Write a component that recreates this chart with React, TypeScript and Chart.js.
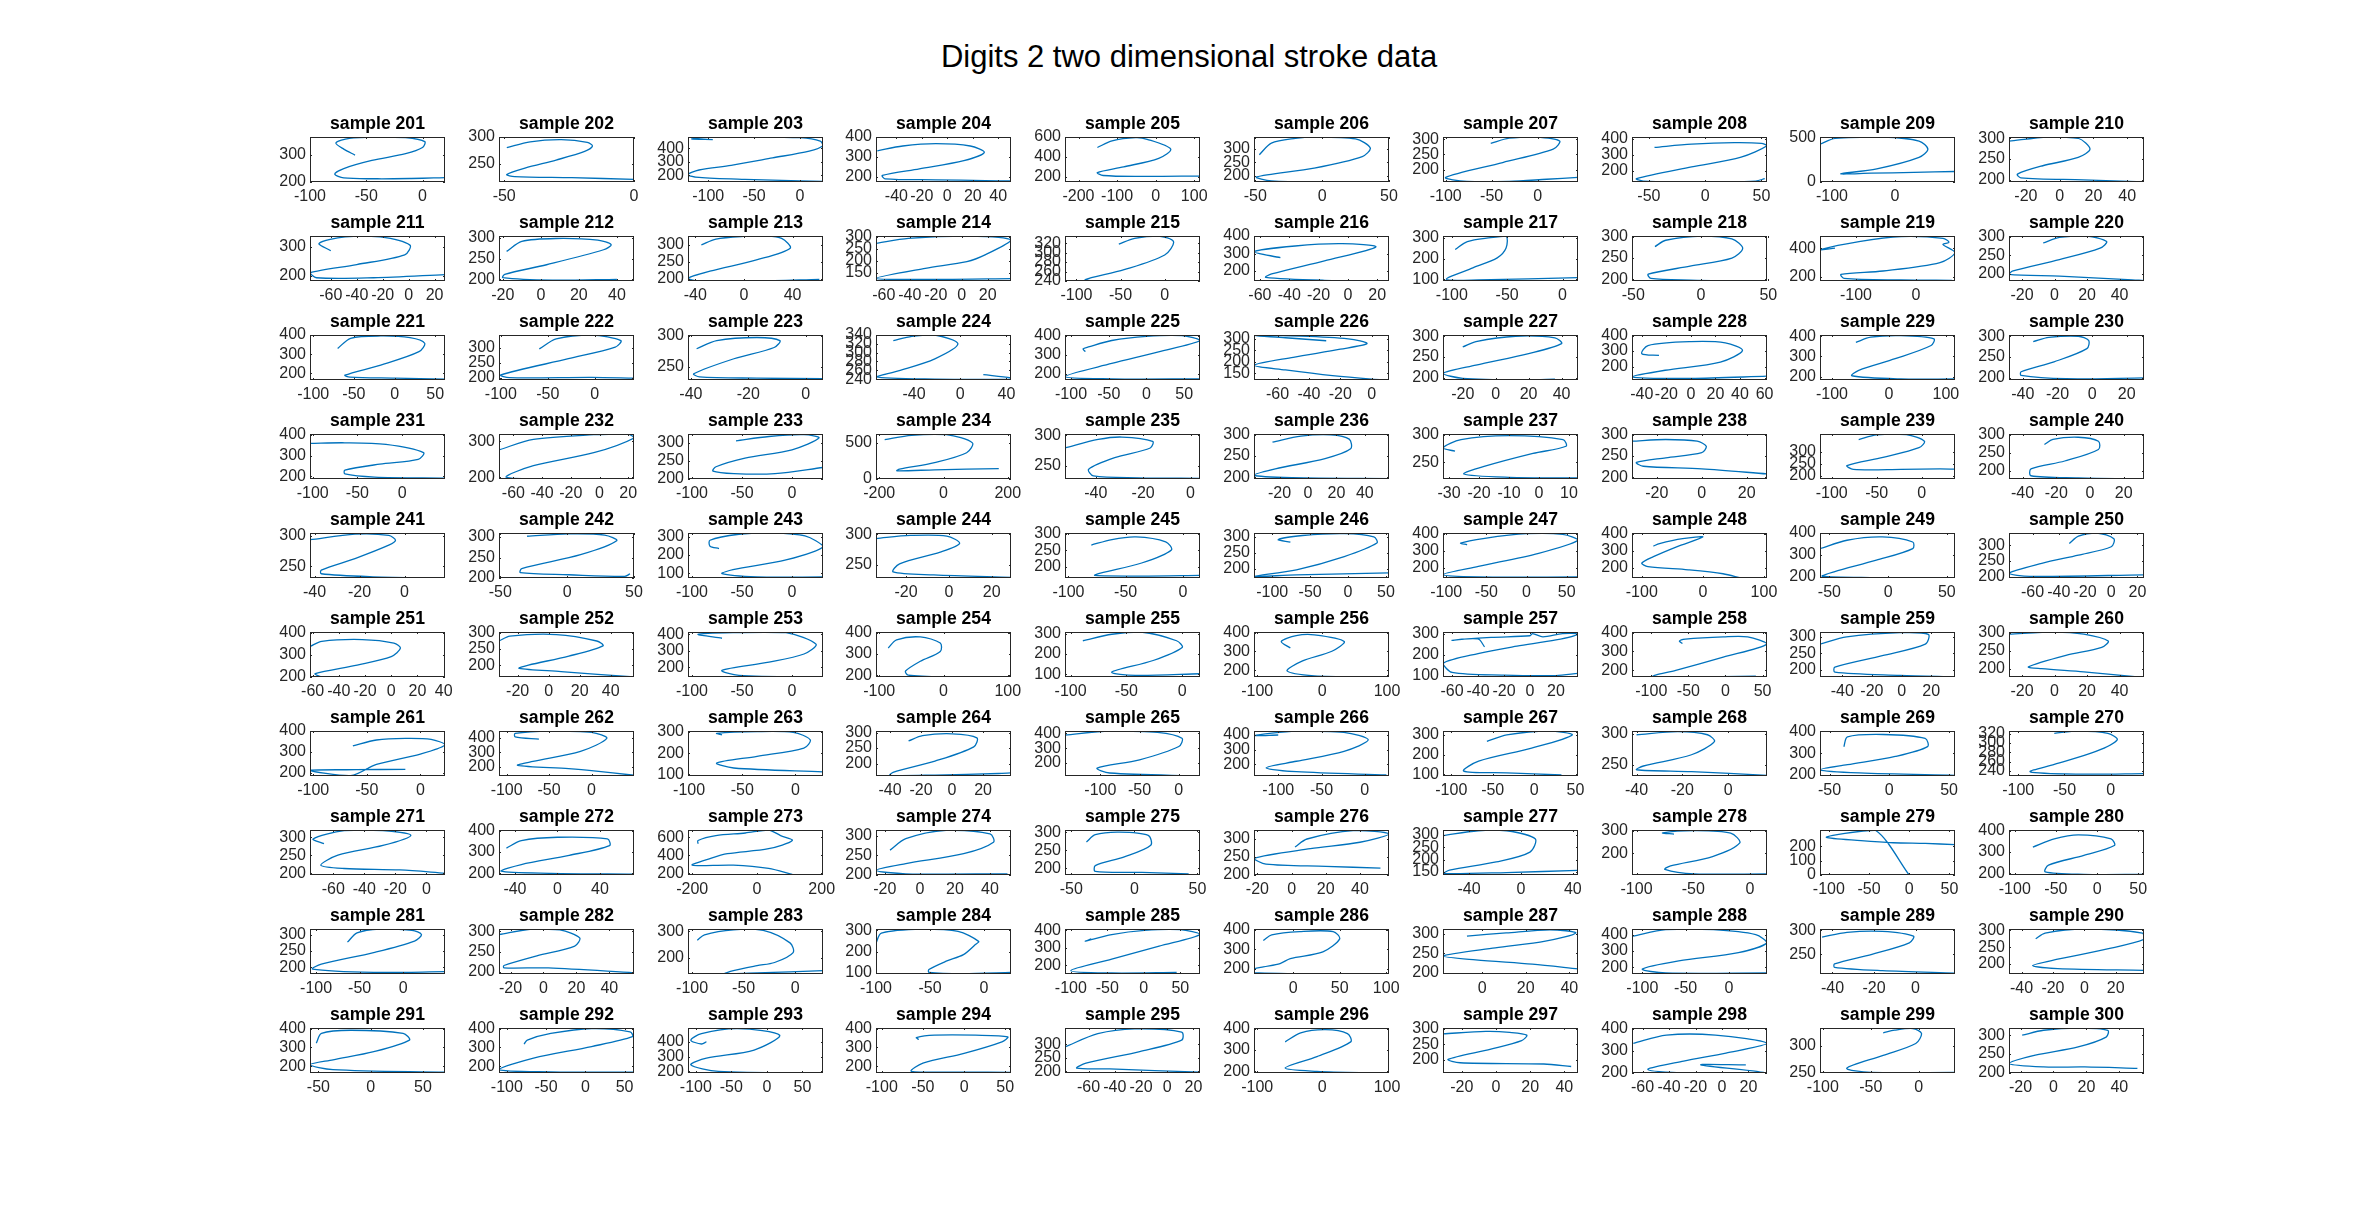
import React, { useEffect, useRef } from "react";
import { Chart, registerables } from "chart.js";

Chart.register(...registerables);

const FONT = '"Liberation Sans", Arial, Helvetica, sans-serif';
const LINE_COLOR = "#0072BD";
const AXIS_COLOR = "#262626";

const figureTitle = "Digits 2 two dimensional stroke data";
const firstSample = 201;
const sampleCount = 100;
const gridCols = 10;

// layout (page pixels)
const GRID_LEFT = 310;
const COL_STEP = 188.8;
const GRID_TOP = 137;
const ROW_STEP = 99;
const BOX_W = 135;
const BOX_H = 45;
const PAD_SIDE = 55;
const Y_AXIS_W = 50;
const PAD_TOP = 32;
const PAD_BOTTOM = 30;

const sampleIds = Array.from({ length: sampleCount }, (_, i) => firstSample + i);

const xLimits: number[][] = [
  [-100, 20], [-52, 0], [-122, 25], [-56, 50], [-235, 115], [-51, 50], [-103, 44], [-65, 55], [-119, 95], [-30, 50],
  [-76, 28], [-22, 49], [-46, 65], [-66, 38], [-113, 40], [-64, 28], [-108, 14], [-51, 49], [-160, 65], [-28, 55],
  [-104, 62], [-102, 42], [-41, 6], [-73, 44], [-108, 71], [-75, 11], [-32, 50], [-48, 62], [-121, 116], [-48, 30],
  [-103, 48], [-70, 24], [-104, 31], [-210, 210], [-53, 4], [-38, 57], [-32, 13], [-31, 29], [-113, 37], [-48, 32],
  [-42, 18], [-51, 50], [-104, 31], [-34, 29], [-103, 15], [-124, 54], [-104, 64], [-116, 105], [-58, 57], [-78, 25],
  [-62, 41], [-32, 55], [-104, 31], [-105, 105], [-105, 16], [-105, 103], [-67, 37], [-126, 56], [-55, 36], [-28, 55],
  [-103, 23], [-109, 50], [-101, 26], [-49, 38], [-145, 27], [-128, 28], [-110, 53], [-42, 17], [-58, 55], [-110, 36],
  [-75, 12], [-55, 72], [-213, 204], [-25, 52], [-55, 52], [-22, 57], [-60, 44], [-104, 15], [-111, 57], [-107, 57],
  [-107, 48], [-27, 55], [-104, 27], [-100, 25], [-108, 77], [-42, 103], [-18, 44], [-112, 44], [-46, 19], [-48, 38],
  [-58, 71], [-110, 62], [-111, 79], [-107, 57], [-78, 25], [-105, 103], [-31, 48], [-68, 34], [-103, 38], [-27, 55],
];

const yLimits: number[][] = [
  [200, 367], [216, 300], [151, 485], [175, 400], [151, 600], [177, 345], [159, 307], [129, 410], [0, 505], [195, 303],
  [183, 336], [196, 304], [193, 326], [115, 303], [240, 335], [143, 400], [92, 308], [196, 302], [173, 484], [180, 302],
  [165, 400], [192, 344], [229, 301], [238, 340], [166, 403], [121, 317], [194, 303], [113, 404], [184, 406], [194, 303],
  [188, 403], [195, 320], [200, 325], [0, 623], [228, 302], [196, 302], [220, 301], [196, 302], [186, 373], [177, 302],
  [231, 305], [200, 310], [73, 322], [229, 302], [165, 303], [170, 313], [140, 404], [140, 404], [195, 400], [197, 338],
  [200, 403], [163, 303], [140, 414], [192, 403], [87, 308], [165, 403], [93, 308], [165, 403], [178, 315], [177, 302],
  [185, 400], [136, 445], [95, 303], [160, 305], [113, 415], [122, 427], [92, 320], [232, 304], [195, 402], [229, 326],
  [195, 320], [192, 403], [182, 680], [200, 314], [182, 306], [200, 325], [137, 320], [105, 303], [0, 314], [192, 403],
  [180, 317], [195, 306], [137, 309], [95, 306], [149, 408], [175, 403], [197, 312], [160, 434], [209, 303], [170, 304],
  [165, 403], [165, 403], [189, 493], [165, 403], [194, 360], [192, 403], [157, 302], [200, 403], [249, 333], [200, 319],
];

const xTicks: number[][] = [
  [-100, -50, 0], [-50, 0], [-100, -50, 0], [-40, -20, 0, 20, 40], [-200, -100, 0, 100], [-50, 0, 50], [-100, -50, 0], [-50, 0, 50], [-100, 0], [-20, 0, 20, 40],
  [-60, -40, -20, 0, 20], [-20, 0, 20, 40], [-40, 0, 40], [-60, -40, -20, 0, 20], [-100, -50, 0], [-60, -40, -20, 0, 20], [-100, -50, 0], [-50, 0, 50], [-100, 0], [-20, 0, 20, 40],
  [-100, -50, 0, 50], [-100, -50, 0], [-40, -20, 0], [-40, 0, 40], [-100, -50, 0, 50], [-60, -40, -20, 0], [-20, 0, 20, 40], [-40, -20, 0, 20, 40, 60], [-100, 0, 100], [-40, -20, 0, 20],
  [-100, -50, 0], [-60, -40, -20, 0, 20], [-100, -50, 0], [-200, 0, 200], [-40, -20, 0], [-20, 0, 20, 40], [-30, -20, -10, 0, 10], [-20, 0, 20], [-100, -50, 0], [-40, -20, 0, 20],
  [-40, -20, 0], [-50, 0, 50], [-100, -50, 0], [-20, 0, 20], [-100, -50, 0], [-100, -50, 0, 50], [-100, -50, 0, 50], [-100, 0, 100], [-50, 0, 50], [-60, -40, -20, 0, 20],
  [-60, -40, -20, 0, 20, 40], [-20, 0, 20, 40], [-100, -50, 0], [-100, 0, 100], [-100, -50, 0], [-100, 0, 100], [-60, -40, -20, 0, 20], [-100, -50, 0, 50], [-40, -20, 0, 20], [-20, 0, 20, 40],
  [-100, -50, 0], [-100, -50, 0], [-100, -50, 0], [-40, -20, 0, 20], [-100, -50, 0], [-100, -50, 0], [-100, -50, 0, 50], [-40, -20, 0], [-50, 0, 50], [-100, -50, 0],
  [-60, -40, -20, 0], [-40, 0, 40], [-200, 0, 200], [-20, 0, 20, 40], [-50, 0, 50], [-20, 0, 20, 40], [-40, 0, 40], [-100, -50, 0], [-100, -50, 0, 50], [-100, -50, 0, 50],
  [-100, -50, 0], [-20, 0, 20, 40], [-100, -50, 0], [-100, -50, 0], [-100, -50, 0, 50], [0, 50, 100], [0, 20, 40], [-100, -50, 0], [-40, -20, 0], [-40, -20, 0, 20],
  [-50, 0, 50], [-100, -50, 0, 50], [-100, -50, 0, 50], [-100, -50, 0, 50], [-60, -40, -20, 0, 20], [-100, 0, 100], [-20, 0, 20, 40], [-60, -40, -20, 0, 20], [-100, -50, 0], [-20, 0, 20, 40],
];

const yTicks: number[][] = [
  [200, 300], [250, 300], [200, 300, 400], [200, 300, 400], [200, 400, 600], [200, 250, 300], [200, 250, 300], [200, 300, 400], [0, 500], [200, 250, 300],
  [200, 300], [200, 250, 300], [200, 250, 300], [150, 200, 250, 300], [240, 260, 280, 300, 320], [200, 300, 400], [100, 200, 300], [200, 250, 300], [200, 400], [200, 250, 300],
  [200, 300, 400], [200, 250, 300], [250, 300], [240, 260, 280, 300, 320, 340], [200, 300, 400], [150, 200, 250, 300], [200, 250, 300], [200, 300, 400], [200, 300, 400], [200, 250, 300],
  [200, 300, 400], [200, 300], [200, 250, 300], [0, 500], [250, 300], [200, 250, 300], [250, 300], [200, 250, 300], [200, 250, 300], [200, 250, 300],
  [250, 300], [200, 250, 300], [100, 200, 300], [250, 300], [200, 250, 300], [200, 250, 300], [200, 300, 400], [200, 300, 400], [200, 300, 400], [200, 250, 300],
  [200, 300, 400], [200, 250, 300], [200, 300, 400], [200, 300, 400], [100, 200, 300], [200, 300, 400], [100, 200, 300], [200, 300, 400], [200, 250, 300], [200, 250, 300],
  [200, 300, 400], [200, 300, 400], [100, 200, 300], [200, 250, 300], [200, 300, 400], [200, 300, 400], [100, 200, 300], [250, 300], [200, 300, 400], [240, 260, 280, 300, 320],
  [200, 250, 300], [200, 300, 400], [200, 400, 600], [200, 250, 300], [200, 250, 300], [200, 250, 300], [150, 200, 250, 300], [200, 300], [0, 100, 200], [200, 300, 400],
  [200, 250, 300], [200, 250, 300], [200, 300], [100, 200, 300], [200, 300, 400], [200, 300, 400], [200, 250, 300], [200, 300, 400], [250, 300], [200, 250, 300],
  [200, 300, 400], [200, 300, 400], [200, 300, 400], [200, 300, 400], [200, 250, 300], [200, 300, 400], [200, 250, 300], [200, 300, 400], [250, 300], [200, 250, 300],
];

const stroke201 = [[-60, 300], [-70, 322], [-77, 345], [-65, 362], [-40, 367], [-15, 365], [2, 350], [0, 328], [-15, 305], [-45, 280], [-70, 250], [-78, 230], [-70, 215], [-40, 212], [-10, 213], [10, 215], [20, 216]];
const stroke202 = [[-49, 280], [-40, 291], [-28, 295], [-18, 290], [-16, 283], [-19, 273], [-30, 257], [-42, 242], [-49, 230], [-46, 226], [-24, 224], [0, 221]];
const stroke203 = [[-95, 466], [-118, 470], [-100, 482], [-50, 485], [0, 480], [22, 455], [25, 420], [10, 380], [-30, 330], [-75, 275], [-110, 240], [-122, 205], [-110, 185], [-60, 170], [0, 160], [25, 155]];
const stroke204 = [[-55, 331], [-35, 355], [-9, 367], [18, 355], [29, 323], [13, 282], [-22, 241], [-51, 208], [-49, 191], [-9, 186], [30, 182], [50, 180]];
const stroke205 = [[-151, 495], [-113, 561], [-52, 593], [-22, 577], [39, 479], [8, 387], [-83, 302], [-151, 245], [-136, 216], [-37, 207], [115, 210]];
const stroke206 = [[-47, 279], [-38, 322], [-20, 340], [-6, 345], [25, 338], [36, 304], [30, 272], [-6, 229], [-49, 196], [-38, 181], [2, 177], [50, 177]];
const stroke207 = [[-51, 286], [-31, 303], [-2, 307], [24, 294], [17, 267], [-38, 223], [-100, 174], [-77, 161], [-31, 161], [10, 168], [44, 174]];
const stroke208 = [[-45, 345], [-12, 365], [26, 375], [50, 370], [55, 355], [32, 284], [-12, 223], [-61, 150], [-55, 135], [-20, 129], [15, 129], [45, 135], [53, 150]];
const stroke209 = [[-119, 424], [-95, 490], [-19, 505], [38, 460], [52, 368], [38, 276], [-29, 147], [-86, 92], [-38, 99], [30, 108], [95, 118]];
const stroke210 = [[-30, 293], [-7, 303], [11, 300], [18, 274], [11, 254], [-10, 234], [-25, 214], [-23, 205], [14, 200], [50, 195]];
const stroke211 = [[-60, 286], [-69, 311], [-49, 333], [-22, 333], [1, 305], [-3, 272], [-40, 239], [-76, 211], [-71, 194], [-27, 194], [28, 205]];
const stroke212 = [[-18, 267], [-10, 291], [8, 298], [30, 294], [37, 283], [33, 271], [3, 235], [-19, 212], [-20, 204], [6, 198], [40, 200]];
const stroke213 = [[-35, 300], [-23, 317], [0, 325], [17, 326], [31, 319], [38, 290], [11, 256], [-28, 222], [-46, 201], [-38, 193], [11, 193], [62, 198]];
const stroke214 = [[-66, 272], [-41, 293], [5, 303], [38, 286], [18, 224], [4, 196], [-28, 168], [-66, 126], [-19, 122], [38, 125]];
const stroke215 = [[-52, 318], [-34, 330], [-7, 335], [10, 323], [0, 295], [-46, 264], [-90, 243], [-73, 240], [40, 241]];
const stroke216 = [[-46, 276], [-64, 310], [-36, 343], [-4, 356], [19, 337], [-16, 258], [-52, 183], [-56, 164], [-16, 147], [28, 143]];
const stroke217 = [[-97, 243], [-86, 281], [-65, 300], [-51, 308], [-51, 250], [-59, 203], [-81, 155], [-105, 100], [-76, 97], [14, 108]];
const stroke218 = [[-34, 277], [-26, 292], [1, 302], [23, 295], [31, 273], [23, 250], [-8, 231], [-39, 212], [-37, 202], [-8, 198], [36, 196]];
const stroke219 = [[-135, 400], [-160, 389], [-95, 445], [-25, 480], [45, 468], [55, 440], [45, 425], [65, 370], [40, 300], [-55, 242], [-125, 219], [-120, 191], [-25, 180], [60, 178]];
const stroke220 = [[-7, 283], [3, 298], [20, 302], [32, 287], [28, 269], [3, 238], [-26, 207], [-28, 198], [3, 193], [45, 184], [55, 181]];
const stroke221 = [[-70, 330], [-54, 383], [-17, 395], [19, 386], [37, 357], [30, 313], [-17, 243], [-61, 190], [-55, 180], [0, 175], [62, 170]];
const stroke222 = [[-59, 297], [-41, 331], [-3, 344], [28, 325], [22, 303], [-28, 264], [-100, 209], [-91, 200], [-3, 201], [42, 198]];
const stroke223 = [[-38, 279], [-31, 292], [-17, 297], [-9, 292], [-11, 281], [-25, 263], [-39, 239], [-37, 234], [-17, 232], [6, 231]];
const stroke224 = [[-58, 327], [-42, 337], [-22, 340], [-2, 320], [-22, 286], [-52, 260], [-73, 245], [-22, 240], [44, 240], [44, 243], [20, 250]];
const stroke225 = [[-81, 315], [-84, 330], [-77, 340], [-46, 374], [0, 396], [47, 400], [71, 374], [16, 314], [-46, 253], [-108, 184], [-46, 172], [71, 172]];
const stroke226 = [[-29, 292], [-55, 305], [-75, 314], [-45, 312], [-15, 300], [-3, 280], [-20, 255], [-50, 220], [-75, 185], [-55, 165], [-25, 140], [0, 125], [11, 121]];
const stroke227 = [[-20, 274], [-12, 287], [12, 300], [36, 296], [40, 282], [20, 258], [-12, 230], [-32, 210], [-20, 198], [20, 194], [36, 196]];
const stroke228 = [[-26, 272], [-40, 283], [-35, 336], [0, 361], [28, 353], [42, 304], [24, 229], [-21, 176], [-48, 134], [0, 123], [62, 138]];
const stroke229 = [[-58, 370], [-32, 395], [21, 403], [79, 387], [74, 354], [11, 289], [-53, 232], [-65, 205], [21, 189], [116, 189]];
const stroke230 = [[-34, 287], [-25, 297], [-8, 300], [-2, 290], [-3, 270], [-22, 238], [-41, 214], [-41, 205], [-15, 197], [30, 199]];
const stroke231 = [[-103, 358], [-64, 361], [-18, 353], [24, 314], [18, 282], [-25, 259], [-64, 230], [-64, 212], [-31, 197], [48, 192]];
const stroke232 = [[-70, 276], [-46, 305], [-4, 318], [20, 320], [24, 309], [-4, 268], [-46, 232], [-65, 200], [-33, 195], [24, 195]];
const stroke233 = [[-56, 306], [-23, 318], [12, 323], [27, 314], [0, 281], [-47, 258], [-76, 234], [-79, 222], [-58, 215], [-17, 215], [31, 232]];
const stroke234 = [[-183, 545], [-100, 605], [9, 614], [90, 500], [72, 364], [-28, 227], [-137, 136], [-145, 114], [-28, 127], [172, 145]];
const stroke235 = [[-53, 279], [-39, 293], [-29, 297], [-16, 290], [-17, 279], [-32, 263], [-43, 244], [-41, 233], [-22, 230], [4, 229]];
const stroke236 = [[-25, 283], [-5, 297], [16, 300], [29, 290], [30, 267], [12, 244], [-23, 220], [-38, 205], [-11, 199], [57, 197]];
const stroke237 = [[-28, 270], [-32, 276], [-26, 291], [-10, 298], [8, 291], [9, 279], [-2, 266], [-18, 243], [-25, 229], [-10, 223], [13, 222]];
const stroke238 = [[-31, 285], [-16, 289], [-2, 285], [2, 273], [0, 258], [-16, 246], [-29, 235], [-26, 226], [0, 220], [29, 208]];
const stroke239 = [[-70, 350], [-50, 369], [-17, 370], [3, 343], [-3, 316], [-43, 276], [-83, 242], [-76, 226], [-23, 226], [20, 228], [37, 227]];
const stroke240 = [[-27, 273], [-22, 287], [-7, 293], [5, 282], [5, 259], [-15, 227], [-35, 205], [-35, 186], [-7, 180], [32, 177]];
const stroke241 = [[-42, 294], [-22, 303], [-7, 301], [-4, 293], [-7, 285], [-22, 263], [-37, 244], [-37, 238], [-14, 233], [18, 231]];
const stroke242 = [[-30, 302], [1, 308], [28, 305], [37, 291], [10, 257], [-34, 223], [-35, 213], [1, 208], [43, 204], [47, 210]];
const stroke243 = [[-73, 236], [-82, 249], [-82, 282], [-53, 315], [-23, 322], [13, 306], [31, 246], [-6, 173], [-59, 119], [-70, 97], [-35, 79], [31, 79]];
const stroke244 = [[-34, 293], [-18, 298], [-1, 297], [5, 285], [-4, 271], [-23, 252], [-26, 239], [-7, 234], [29, 230]];
const stroke245 = [[-80, 266], [-62, 283], [-41, 291], [-15, 276], [-10, 251], [-36, 211], [-72, 180], [-77, 173], [-36, 171], [15, 173]];
const stroke246 = [[-76, 284], [-92, 292], [-60, 305], [-5, 311], [34, 301], [38, 281], [-5, 238], [-68, 196], [-124, 175], [-68, 180], [54, 186]];
const stroke247 = [[-74, 335], [-82, 345], [-52, 373], [0, 400], [45, 396], [64, 362], [15, 285], [-60, 208], [-104, 160], [-60, 146], [64, 146]];
const stroke248 = [[-81, 327], [-71, 342], [-33, 371], [0, 381], [-43, 323], [-81, 265], [-100, 227], [-90, 207], [-24, 188], [33, 165], [62, 140]];
const stroke249 = [[-58, 329], [-35, 367], [-5, 382], [21, 359], [21, 329], [-10, 276], [-46, 223], [-56, 203], [-15, 197], [57, 197]];
const stroke250 = [[-32, 305], [-25, 328], [-11, 338], [2, 320], [0, 295], [-25, 269], [-53, 243], [-78, 212], [-62, 202], [25, 207]];
const stroke251 = [[-62, 338], [-53, 361], [-22, 369], [2, 353], [7, 330], [0, 292], [-26, 254], [-58, 215], [-53, 201], [41, 200]];
const stroke252 = [[-32, 275], [-25, 290], [5, 295], [31, 275], [35, 260], [13, 228], [-13, 200], [-19, 190], [8, 180], [55, 163]];
const stroke253 = [[-70, 376], [-94, 400], [-59, 410], [-6, 410], [24, 340], [12, 280], [-23, 230], [-70, 180], [-53, 150], [31, 140]];
const stroke254 = [[-86, 328], [-73, 366], [-36, 380], [-5, 351], [-5, 312], [-36, 266], [-59, 220], [-55, 201], [9, 192], [82, 192]];
const stroke255 = [[-89, 265], [-63, 297], [-37, 308], [-5, 265], [0, 232], [-26, 168], [-63, 111], [-42, 95], [16, 103]];
const stroke256 = [[-49, 318], [-63, 353], [-40, 384], [-12, 388], [34, 353], [15, 301], [-31, 249], [-54, 197], [-12, 171], [80, 165]];
const stroke257 = [[-35, 237], [-40, 275], [-60, 268], [-30, 282], [0, 290], [2, 300], [10, 285], [25, 300], [37, 298], [20, 270], [-10, 240], [-40, 205], [-67, 158], [-60, 115], [-20, 102], [20, 100], [37, 110]];
const stroke258 = [[-58, 342], [-62, 355], [-54, 365], [-3, 377], [30, 377], [56, 339], [-3, 270], [-67, 200], [-98, 168], [-50, 165], [41, 170]];
const stroke259 = [[-55, 278], [-37, 300], [-1, 313], [18, 308], [16, 278], [-13, 243], [-45, 208], [-45, 193], [-1, 183], [36, 178]];
const stroke260 = [[-28, 296], [0, 302], [18, 296], [33, 277], [29, 259], [7, 237], [-16, 205], [-8, 200], [18, 191], [51, 177]];
const stroke261 = [[-63, 329], [-41, 357], [-14, 365], [10, 360], [23, 334], [0, 290], [-41, 240], [-65, 187], [-103, 212], [-60, 215], [-14, 217]];
const stroke262 = [[-62, 389], [-90, 405], [-90, 428], [-48, 445], [0, 436], [18, 395], [-13, 305], [-69, 236], [-87, 209], [-27, 186], [0, 173], [50, 141]];
const stroke263 = [[-69, 285], [-74, 292], [-36, 300], [-2, 297], [14, 262], [8, 224], [-36, 186], [-74, 155], [-58, 132], [26, 114]];
const stroke264 = [[-28, 273], [-19, 290], [0, 296], [16, 283], [14, 254], [-11, 208], [-38, 172], [-40, 162], [-11, 163], [30, 168], [38, 170]];
const stroke265 = [[-145, 388], [-88, 415], [-27, 406], [4, 366], [0, 311], [-50, 222], [-104, 166], [-88, 133], [27, 113]];
const stroke266 = [[-100, 400], [-128, 396], [-79, 427], [-24, 418], [4, 367], [-24, 289], [-79, 222], [-114, 178], [-79, 151], [25, 129]];
const stroke267 = [[-57, 267], [-33, 300], [17, 320], [46, 300], [-3, 233], [-67, 167], [-85, 117], [-33, 108], [33, 97]];
const stroke268 = [[-40, 298], [-22, 303], [-9, 298], [-6, 287], [-16, 266], [-37, 248], [-40, 242], [-16, 239], [17, 233]];
const stroke269 = [[-38, 330], [-35, 375], [-5, 386], [30, 368], [32, 330], [5, 285], [-35, 247], [-58, 224], [-25, 209], [55, 198]];
const stroke270 = [[-61, 321], [-35, 326], [-3, 321], [7, 307], [-16, 282], [-61, 254], [-87, 238], [-29, 233], [36, 234]];
const stroke271 = [[-66, 282], [-73, 295], [-53, 318], [-28, 318], [-10, 305], [-28, 277], [-57, 250], [-68, 222], [-53, 213], [-17, 209], [12, 200]];
const stroke272 = [[-48, 318], [-34, 353], [0, 369], [47, 361], [49, 330], [11, 284], [-34, 241], [-53, 210], [-6, 200], [71, 196]];
const stroke273 = [[-182, 527], [-182, 564], [-127, 618], [-36, 647], [36, 680], [73, 618], [109, 564], [36, 473], [-91, 418], [-145, 364], [-200, 291], [-73, 291], [36, 255], [109, 189]];
const stroke274 = [[-17, 263], [-8, 292], [15, 313], [40, 304], [42, 283], [25, 254], [-8, 229], [-25, 212], [-8, 203], [50, 203]];
const stroke275 = [[-38, 273], [-31, 293], [-12, 300], [11, 291], [13, 264], [-8, 232], [-31, 208], [-31, 192], [6, 189], [43, 185]];
const stroke276 = [[2, 278], [9, 300], [36, 323], [57, 314], [40, 291], [11, 273], [-22, 246], [-15, 230], [20, 224], [52, 219]];
const stroke277 = [[-60, 297], [-33, 317], [-11, 317], [11, 284], [7, 230], [-19, 190], [-55, 157], [-60, 143], [-11, 147], [44, 156]];
const stroke278 = [[-67, 285], [-77, 290], [-49, 300], [-17, 289], [-9, 246], [-33, 186], [-70, 145], [-75, 130], [-49, 110], [15, 110]];
const stroke279 = [[0, 0], [-42, 312], [-80, 290], [-103, 262], [-60, 240], [-20, 225], [20, 220], [57, 212]];
const stroke280 = [[-78, 323], [-52, 361], [-23, 380], [17, 361], [21, 330], [-16, 284], [-59, 238], [-63, 207], [-16, 195], [57, 195]];
const stroke281 = [[-64, 277], [-53, 305], [-27, 317], [10, 313], [21, 300], [13, 280], [-34, 245], [-94, 210], [-104, 195], [-34, 185], [48, 187]];
const stroke282 = [[-27, 292], [-7, 306], [10, 304], [22, 284], [19, 264], [-4, 240], [-24, 216], [-24, 210], [3, 210], [55, 198]];
const stroke283 = [[-95, 266], [-88, 287], [-60, 306], [-31, 304], [-5, 256], [-2, 219], [-20, 181], [-37, 169], [-60, 150], [-69, 137], [-37, 141], [27, 150]];
const stroke284 = [[-100, 240], [-95, 287], [-57, 306], [-24, 295], [-5, 248], [-8, 233], [-19, 186], [-35, 155], [-51, 116], [-51, 103], [-19, 97], [25, 103]];
const stroke285 = [[-72, 351], [-80, 338], [-44, 376], [1, 400], [50, 404], [77, 376], [21, 309], [-44, 234], [-100, 168], [-44, 155], [45, 158]];
const stroke286 = [[-32, 345], [-23, 373], [7, 390], [43, 390], [50, 353], [32, 287], [-3, 253], [-14, 228], [-32, 211], [-42, 200], [-42, 182], [58, 175]];
const stroke287 = [[-7, 294], [11, 302], [31, 310], [43, 302], [29, 281], [6, 264], [-18, 243], [-3, 233], [23, 222], [44, 210]];
const stroke288 = [[-111, 390], [-73, 430], [-18, 430], [31, 400], [44, 350], [11, 290], [-58, 240], [-100, 190], [-73, 166], [44, 166]];
const stroke289 = [[-45, 286], [-33, 296], [-16, 298], [-1, 288], [-3, 274], [-21, 250], [-39, 230], [-39, 223], [-16, 216], [19, 211]];
const stroke290 = [[-31, 275], [-25, 292], [0, 304], [37, 292], [38, 273], [14, 244], [-17, 214], [-33, 195], [-17, 186], [38, 181]];
const stroke291 = [[-52, 323], [-47, 374], [-19, 391], [31, 374], [37, 339], [3, 278], [-36, 235], [-58, 209], [-36, 183], [71, 169]];
const stroke292 = [[-78, 318], [-74, 339], [-44, 374], [8, 400], [57, 383], [60, 357], [8, 305], [-66, 244], [-110, 183], [-44, 171], [62, 169]];
const stroke293 = [[-85, 400], [-92, 385], [-107, 411], [-92, 455], [-41, 489], [18, 444], [-18, 344], [-85, 289], [-107, 244], [-68, 200], [79, 189]];
const stroke294 = [[-55, 342], [-58, 352], [-36, 365], [14, 365], [53, 356], [46, 330], [0, 269], [-50, 217], [-64, 174], [0, 170], [57, 168]];
const stroke295 = [[-78, 290], [-53, 339], [-25, 357], [11, 345], [11, 315], [-21, 273], [-62, 230], [-69, 212], [-44, 209], [25, 197]];
const stroke296 = [[-57, 338], [-33, 380], [5, 395], [39, 377], [44, 338], [-8, 269], [-57, 215], [-8, 200], [88, 192]];
const stroke297 = [[-31, 283], [-6, 291], [8, 288], [18, 279], [15, 261], [-3, 234], [-28, 201], [-21, 190], [28, 186], [44, 178]];
const stroke298 = [[-67, 334], [-42, 371], [-5, 371], [34, 334], [3, 290], [-29, 254], [-56, 216], [-24, 200], [34, 200], [-16, 237], [18, 237]];
const stroke299 = [[-37, 324], [-25, 329], [-6, 332], [3, 323], [-3, 304], [-37, 282], [-75, 258], [-50, 250], [38, 250]];
const stroke300 = [[-19, 300], [-6, 313], [15, 319], [33, 313], [32, 295], [15, 269], [-11, 247], [-27, 225], [-6, 216], [19, 216], [51, 212]];

const strokes: number[][][] = [
  stroke201, stroke202, stroke203, stroke204, stroke205, stroke206, stroke207, stroke208, stroke209, stroke210,
  stroke211, stroke212, stroke213, stroke214, stroke215, stroke216, stroke217, stroke218, stroke219, stroke220,
  stroke221, stroke222, stroke223, stroke224, stroke225, stroke226, stroke227, stroke228, stroke229, stroke230,
  stroke231, stroke232, stroke233, stroke234, stroke235, stroke236, stroke237, stroke238, stroke239, stroke240,
  stroke241, stroke242, stroke243, stroke244, stroke245, stroke246, stroke247, stroke248, stroke249, stroke250,
  stroke251, stroke252, stroke253, stroke254, stroke255, stroke256, stroke257, stroke258, stroke259, stroke260,
  stroke261, stroke262, stroke263, stroke264, stroke265, stroke266, stroke267, stroke268, stroke269, stroke270,
  stroke271, stroke272, stroke273, stroke274, stroke275, stroke276, stroke277, stroke278, stroke279, stroke280,
  stroke281, stroke282, stroke283, stroke284, stroke285, stroke286, stroke287, stroke288, stroke289, stroke290,
  stroke291, stroke292, stroke293, stroke294, stroke295, stroke296, stroke297, stroke298, stroke299, stroke300,
];

// draws the MATLAB-style full box and small inward tick marks
const boxPlugin = {
  id: "matlabBox",
  afterDatasetsDraw(chart: any) {
    const { ctx, chartArea } = chart;
    const { left, top, right, bottom } = chartArea;
    const xs = chart.scales.x;
    const ys = chart.scales.y;
    ctx.save();
    ctx.strokeStyle = AXIS_COLOR;
    ctx.lineWidth = 1;
    ctx.strokeRect(left + 0.5, top + 0.5, right - left - 1, bottom - top - 1);
    ctx.beginPath();
    const tl = 2;
    for (const t of xs.ticks) {
      const px = Math.round(xs.getPixelForValue(t.value)) + 0.5;
      ctx.moveTo(px, bottom);
      ctx.lineTo(px, bottom - tl);
      ctx.moveTo(px, top);
      ctx.lineTo(px, top + tl);
    }
    for (const t of ys.ticks) {
      const py = Math.round(ys.getPixelForValue(t.value)) + 0.5;
      ctx.moveTo(left, py);
      ctx.lineTo(left + tl, py);
      ctx.moveTo(right, py);
      ctx.lineTo(right - tl, py);
    }
    ctx.stroke();
    ctx.restore();
  },
};

function makeConfig(i: number): any {
  const xl = xLimits[i];
  const yl = yLimits[i];
  const xt = xTicks[i];
  const yt = yTicks[i];
  return {
    type: "scatter",
    data: {
      datasets: [
        {
          data: strokes[i].map(([x, y]) => ({ x, y })),
          showLine: true,
          borderColor: LINE_COLOR,
          backgroundColor: LINE_COLOR,
          borderWidth: 1.3,
          pointRadius: 0,
          pointHoverRadius: 0,
          tension: 0.3,
          fill: false,
        },
      ],
    },
    options: {
      responsive: false,
      animation: false,
      events: [],
      layout: { padding: { left: PAD_SIDE - Y_AXIS_W, right: PAD_SIDE, top: 0, bottom: 0 } },
      plugins: {
        legend: { display: false },
        tooltip: { enabled: false },
        title: {
          display: true,
          fullSize: false,
          text: `sample ${sampleIds[i]}`,
          color: "#000000",
          font: { family: FONT, size: 17.6, weight: "bold", lineHeight: 1 },
          padding: { top: 10.2, bottom: PAD_TOP - 10.2 - 17.6 },
        },
      },
      scales: {
        x: {
          type: "linear",
          position: "bottom",
          bounds: "data",
          min: xl[0],
          max: xl[1],
          grid: { display: false, drawTicks: false },
          border: { display: false },
          ticks: {
            autoSkip: false,
            maxRotation: 0,
            minRotation: 0,
            padding: 5,
            color: AXIS_COLOR,
            font: { family: FONT, size: 16 },
            callback: (v: number) => String(v),
          },
          afterBuildTicks: (s: any) => {
            s.ticks = xt.map((value) => ({ value }));
          },
          afterFit: (s: any) => {
            s.height = PAD_BOTTOM;
          },
        },
        y: {
          type: "linear",
          position: "left",
          bounds: "data",
          min: yl[0],
          max: yl[1],
          grid: { display: false, drawTicks: false },
          border: { display: false },
          ticks: {
            autoSkip: false,
            padding: 4,
            color: AXIS_COLOR,
            font: { family: FONT, size: 16 },
            callback: (v: number) => String(v),
          },
          afterBuildTicks: (s: any) => {
            s.ticks = yt.map((value) => ({ value }));
          },
          afterFit: (s: any) => {
            s.width = Y_AXIS_W;
          },
        },
      },
    },
    plugins: [boxPlugin],
  };
}

function Subplot({ index }: { index: number }) {
  const ref = useRef<HTMLCanvasElement | null>(null);
  useEffect(() => {
    const canvas = ref.current;
    if (!canvas) return;
    const chart = new Chart(canvas, makeConfig(index));
    return () => chart.destroy();
  }, [index]);
  const col = index % gridCols;
  const row = Math.floor(index / gridCols);
  const boxLeft = Math.round(GRID_LEFT + col * COL_STEP);
  const boxTop = Math.round(GRID_TOP + row * ROW_STEP);
  const w = BOX_W + 2 * PAD_SIDE;
  const h = PAD_TOP + BOX_H + PAD_BOTTOM;
  return (
    <canvas
      ref={ref}
      width={w}
      height={h}
      style={{ position: "absolute", left: boxLeft - PAD_SIDE, top: boxTop - PAD_TOP, width: w, height: h }}
    />
  );
}

export default function App() {
  return (
    <div
      style={{
        position: "absolute",
        left: 0,
        top: 0,
        width: 2378,
        height: 1211,
        background: "#ffffff",
        overflow: "hidden",
      }}
    >
      <div
        style={{
          position: "absolute",
          left: 0,
          top: 41,
          width: 2378,
          textAlign: "center",
          fontFamily: FONT,
          fontSize: 31,
          lineHeight: "31px",
          color: "#000000",
          whiteSpace: "nowrap",
        }}
      >
        {figureTitle}
      </div>
      {sampleIds.map((id, i) => (
        <Subplot key={id} index={i} />
      ))}
    </div>
  );
}
